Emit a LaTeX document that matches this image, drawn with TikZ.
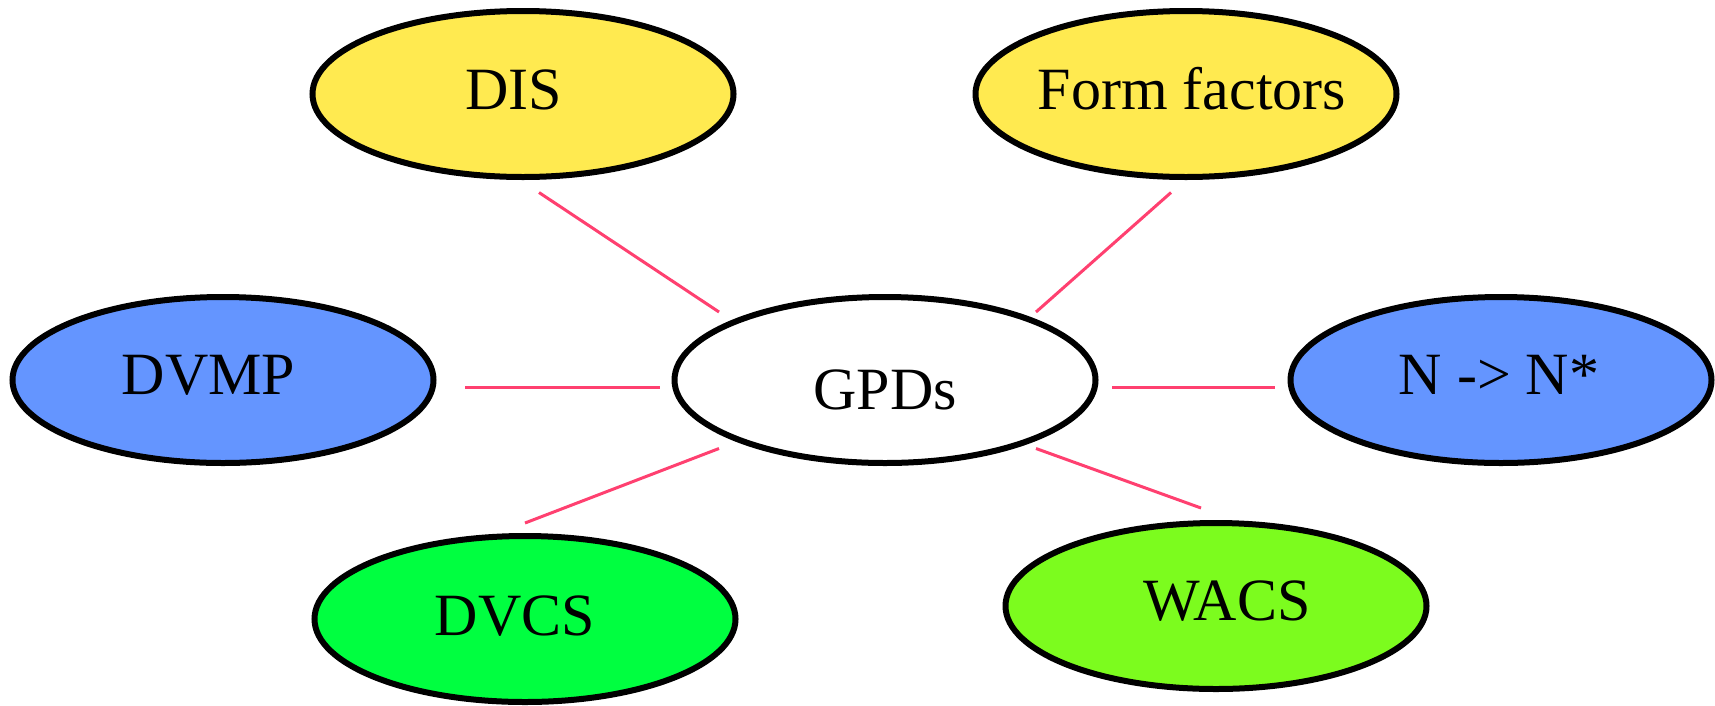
\documentclass[tikz,border=0pt]{standalone}
\usepackage{fontspec}
\setmainfont{Liberation Serif}
\usetikzlibrary{shapes.geometric}
\definecolor{disyellow}{HTML}{FFEA50}
\definecolor{nblue}{HTML}{6495FF}
\definecolor{dvcsgreen}{HTML}{00FF40}
\definecolor{wacsgreen}{HTML}{7CFC1E}
\definecolor{linkpink}{HTML}{FF4070}
\newcommand\offtext[3]{\raisebox{#2}{\makebox[0pt][c]{\hspace*{#1}\hspace*{#1}#3}}}
\tikzset{
  blob/.style={ellipse, draw=black, line width=6pt, minimum width=421pt, minimum height=166pt, inner sep=0pt,
    text height=39.3pt, text depth=0pt, font=\fontsize{60}{70}\selectfont},
  link/.style={draw=linkpink, line width=3pt}
}
\begin{document}
\begin{tikzpicture}[x=1pt,y=-1pt]
\useasboundingbox (0,0) rectangle (1715,705);
\node[blob, fill=disyellow] (dis) at (523,94) {\offtext{-9.5pt}{4pt}{DIS}};
\node[blob, fill=disyellow] (ff) at (1186,94) {\offtext{6pt}{4pt}{Form factors}};
\node[blob, fill=nblue] (dvmp) at (223,380) {\offtext{-14.5pt}{5pt}{DVMP}};
\node[blob, fill=white] (gpd) at (885,380) {\offtext{0pt}{-10pt}{GPDs}};
\node[blob, fill=nblue] (nn) at (1501,380) {\offtext{-2pt}{5pt}{N -> N*}};
\node[blob, fill=dvcsgreen] (dvcs) at (525,619) {\offtext{-10pt}{3pt}{DVCS}};
\node[blob, fill=wacsgreen] (wacs) at (1216,606) {\offtext{11pt}{5pt}{WACS}};
\coordinate (a1) at (539,192.5); \coordinate (a2) at (719,312);
\coordinate (b1) at (1171,192.5); \coordinate (b2) at (1036,312);
\coordinate (c1) at (465,387); \coordinate (c2) at (660,387);
\coordinate (d1) at (1112,387); \coordinate (d2) at (1275,387);
\coordinate (e1) at (525,523); \coordinate (e2) at (719,448.5);
\coordinate (f1) at (1036,448.5); \coordinate (f2) at (1201,508);
\draw[link] (a1) -- (a2);
\draw[link] (b1) -- (b2);
\draw[link] (c1) -- (c2);
\draw[link] (d1) -- (d2);
\draw[link] (e1) -- (e2);
\draw[link] (f1) -- (f2);
\end{tikzpicture}
\end{document}
